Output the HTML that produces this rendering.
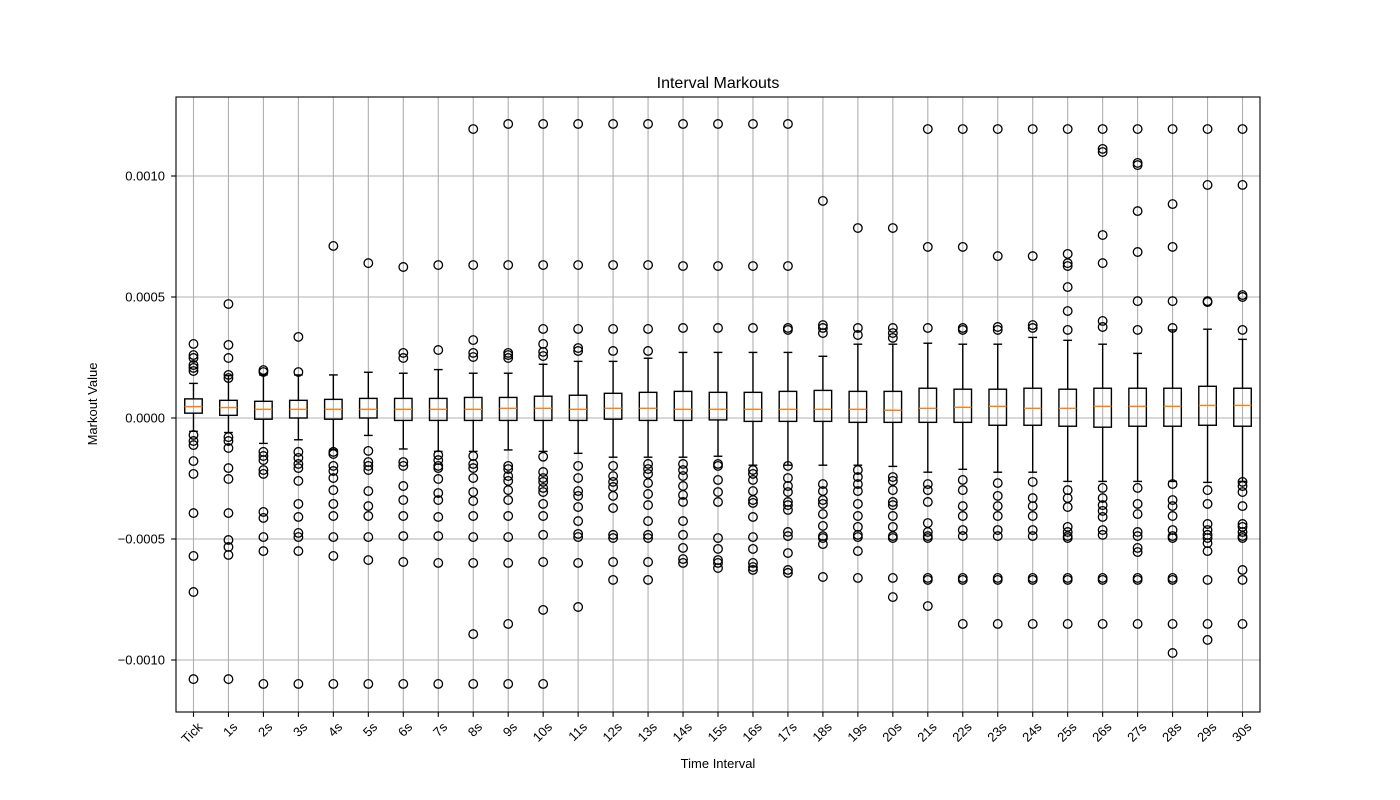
<!DOCTYPE html>
<html><head><meta charset="utf-8"><title>Interval Markouts</title>
<style>html,body{margin:0;padding:0;background:#fff;}svg{display:block;font-family:"Liberation Sans","DejaVu Sans",sans-serif;}</style>
</head><body>
<svg id="chart" width="1400" height="800" viewBox="0 0 1400 800" xmlns="http://www.w3.org/2000/svg">
<rect x="0" y="0" width="1400" height="800" fill="#fff"/>
<text x="718" y="88" text-anchor="middle" font-size="16">Interval Markouts</text>
<text x="718" y="768" text-anchor="middle" font-size="13">Time Interval</text>
<text x="0" y="0" transform="translate(97,404) rotate(-90)" text-anchor="middle" font-size="13">Markout Value</text>
<g id="grid"></g>
<g id="boxes"></g>
<g id="axes"></g>
</svg>
<script>
// values in units of 1e-4
const categories = ["Tick","1s","2s","3s","4s","5s","6s","7s","8s","9s","10s","11s","12s","13s","14s","15s","16s","17s","18s","19s","20s","21s","22s","23s","24s","25s","26s","27s","28s","29s","30s"];
const q1 = [0.20,0.11,-0.05,0,-0.05,0,-0.1,-0.1,-0.1,-0.1,-0.1,-0.1,-0.05,-0.1,-0.1,-0.08,-0.14,-0.14,-0.14,-0.18,-0.18,-0.18,-0.18,-0.3,-0.3,-0.34,-0.38,-0.34,-0.34,-0.3,-0.34];
const medians = [0.47,0.43,0.36,0.36,0.36,0.36,0.36,0.36,0.36,0.4,0.4,0.36,0.4,0.4,0.36,0.36,0.36,0.36,0.36,0.36,0.32,0.4,0.44,0.48,0.4,0.4,0.48,0.48,0.48,0.52,0.52];
const q3 = [0.79,0.73,0.69,0.73,0.77,0.81,0.81,0.81,0.85,0.85,0.9,0.94,1.02,1.06,1.1,1.06,1.06,1.1,1.14,1.1,1.1,1.23,1.19,1.19,1.23,1.19,1.23,1.23,1.23,1.31,1.23];
const whiskerLow = [-0.55,-0.6,-1.05,-0.9,-1.3,-0.72,-1.28,-1.38,-1.38,-1.32,-1.38,-1.46,-1.62,-1.62,-1.62,-1.58,-1.95,-1.95,-1.95,-1.95,-2.0,-2.24,-2.12,-2.24,-2.24,-2.62,-2.62,-2.62,-2.62,-2.66,-2.62];
const whiskerHigh = [1.43,1.75,1.78,1.78,1.78,1.89,1.85,2.0,1.85,1.85,2.22,2.34,2.34,2.47,2.71,2.71,2.71,2.71,2.55,3.05,3.05,3.09,3.05,3.05,3.33,3.21,3.05,2.67,3.64,3.67,3.25];
const outliers = [
 [3.06,2.6,2.48,2.19,2.07,1.94,-0.7,-0.95,-1.12,-1.78,-2.31,-3.93,-5.7,-7.19,-10.79],
 [4.71,3.02,2.48,1.78,1.65,-0.79,-0.95,-1.24,-2.07,-2.52,-3.93,-5.04,-5.33,-5.66,-10.79],
 [1.98,1.9,-1.4,-1.57,-1.74,-2.15,-2.31,-3.88,-4.13,-4.92,-5.5,-10.99],
 [3.35,1.9,-1.4,-1.65,-1.9,-2.07,-2.6,-3.55,-4.09,-4.75,-4.92,-5.5,-10.99],
 [7.11,-1.4,-1.49,-1.98,-2.19,-2.48,-2.98,-3.55,-4.05,-4.92,-5.7,-10.99],
 [6.4,-1.36,-1.82,-1.98,-2.15,-3.02,-3.64,-4.05,-4.92,-5.87,-10.99],
 [6.24,2.69,2.48,-1.82,-1.98,-2.81,-3.39,-4.05,-4.88,-5.95,-10.99],
 [6.32,2.81,-1.53,-1.74,-1.98,-2.07,-2.52,-3.10,-3.39,-4.09,-4.88,-5.99,-10.99],
 [11.94,6.32,3.22,2.69,2.52,-1.57,-1.9,-2.07,-2.48,-3.06,-3.43,-4.05,-4.92,-5.99,-8.93,-10.99],
 [12.15,6.32,2.69,2.6,2.48,-1.98,-2.11,-2.40,-2.60,-2.98,-3.39,-4.05,-4.92,-5.99,-8.51,-10.99],
 [12.15,6.32,3.68,3.06,2.73,2.56,-1.6,-2.23,-2.48,-2.64,-2.89,-3.06,-3.55,-4.05,-4.83,-5.95,-7.93,-10.99],
 [12.15,6.32,3.68,2.89,2.77,-1.98,-2.48,-3.02,-3.22,-3.68,-4.26,-4.79,-4.92,-5.99,-7.81],
 [12.15,6.32,3.68,2.77,-1.98,-2.40,-2.64,-2.85,-3.22,-3.72,-4.83,-4.96,-5.95,-6.69],
 [12.15,6.32,3.68,2.77,-1.9,-2.11,-2.31,-2.69,-3.14,-3.60,-4.26,-4.83,-4.96,-5.95,-6.69],
 [12.15,6.28,3.72,-1.9,-2.15,-2.40,-2.81,-3.18,-3.47,-4.26,-4.83,-5.37,-5.83,-5.99],
 [12.15,6.28,3.72,-1.9,-1.98,-2.56,-3.06,-3.47,-4.96,-5.41,-5.87,-5.99,-6.20],
 [12.15,6.28,3.72,-2.15,-2.31,-2.56,-3.02,-3.39,-3.51,-4.09,-4.92,-5.41,-5.99,-6.16,-6.28],
 [12.15,6.28,3.72,3.64,-1.98,-2.48,-2.81,-3.06,-3.47,-3.60,-3.80,-4.71,-4.88,-5.58,-6.28,-6.40],
 [8.97,3.84,3.72,3.51,-2.73,-3.02,-3.39,-3.55,-3.97,-4.46,-4.88,-4.96,-5.21,-6.57],
 [7.85,3.72,3.43,-2.15,-2.44,-2.73,-3.02,-3.55,-4.05,-4.50,-4.83,-4.92,-5.50,-6.61],
 [7.85,3.72,3.51,3.31,-2.44,-2.60,-2.98,-3.47,-3.60,-4.05,-4.50,-4.88,-4.96,-6.61,-7.40],
 [11.94,7.07,3.72,-2.73,-2.98,-3.47,-4.34,-4.71,-4.88,-4.96,-6.61,-6.69,-7.77],
 [11.94,7.07,3.72,3.64,-2.56,-2.98,-3.64,-4.05,-4.63,-4.88,-6.61,-6.69,-8.51],
 [11.94,6.69,3.76,3.64,-2.69,-3.22,-3.64,-4.05,-4.63,-4.88,-6.61,-6.69,-8.51],
 [11.94,6.69,3.84,3.72,-2.64,-3.31,-3.64,-4.05,-4.63,-4.88,-6.61,-6.69,-8.51],
 [11.94,6.78,6.40,6.28,5.41,4.42,3.64,-2.98,-3.31,-3.68,-4.50,-4.71,-4.88,-4.96,-6.61,-6.69,-8.51],
 [11.94,11.12,10.99,7.56,6.40,4.01,3.76,-2.89,-3.31,-3.60,-3.84,-4.09,-4.63,-4.83,-6.61,-6.69,-8.51],
 [11.94,10.54,10.45,8.55,6.86,4.83,3.64,-2.89,-3.55,-3.97,-4.71,-4.88,-5.37,-5.54,-6.61,-6.69,-8.51],
 [11.94,8.84,7.07,4.83,3.72,-2.73,-3.39,-3.64,-4.05,-4.63,-4.88,-4.96,-6.61,-6.69,-8.51,-9.71],
 [11.94,9.63,4.83,4.79,-2.98,-3.55,-4.38,-4.63,-4.83,-4.96,-5.17,-5.50,-6.69,-8.51,-9.17],
 [11.94,9.63,5.08,5.0,3.64,-2.64,-2.81,-3.06,-3.64,-4.38,-4.50,-4.71,-4.88,-4.96,-6.28,-6.69,-8.51]
];
const yTickValues = [-10, -5, 0, 5, 10];
const yTickLabels = ["\u22120.0010","\u22120.0005","0.0000","0.0005","0.0010"];

const NS = "http://www.w3.org/2000/svg";
const PL = 176, PT = 97, PW = 1084, PH = 615;
const Y0 = 418, YS = 24.2;
function yPos(v){ return Y0 - v * YS; }
function xPos(i){ return PL + (i + 0.5) * PW / categories.length; }
function mk(tag, attrs, parent){
  const e = document.createElementNS(NS, tag);
  for (const k in attrs) e.setAttribute(k, attrs[k]);
  parent.appendChild(e);
  return e;
}
const grid = document.getElementById('grid');
const boxes = document.getElementById('boxes');
const axes = document.getElementById('axes');

categories.forEach((c, i) => {
  const x = xPos(i);
  const gl = mk('line', {x1:x, x2:x, y1:PT, y2:PT+PH, stroke:'#b0b0b0', 'stroke-width':1.1}, grid);
  
  
});
yTickValues.forEach((v) => {
  const y = yPos(v);
  const gl = mk('line', {x1:PL, x2:PL+PW, y1:y, y2:y, stroke:'#b0b0b0', 'stroke-width':1.1}, grid);
  
  
});

const BW = 17.5, CW = 8.75;
categories.forEach((c, i) => {
  const x = xPos(i);
  const g = mk('g', {}, boxes);
  
  
  const s = {stroke:'#000', 'stroke-width':1.4, fill:'none'};
  mk('line', Object.assign({x1:x, x2:x, y1:yPos(q3[i]), y2:yPos(whiskerHigh[i])}, s), g);
  mk('line', Object.assign({x1:x, x2:x, y1:yPos(q1[i]), y2:yPos(whiskerLow[i])}, s), g);
  mk('line', Object.assign({x1:x-CW/2, x2:x+CW/2, y1:yPos(whiskerHigh[i]), y2:yPos(whiskerHigh[i])}, s), g);
  mk('line', Object.assign({x1:x-CW/2, x2:x+CW/2, y1:yPos(whiskerLow[i]), y2:yPos(whiskerLow[i])}, s), g);
  mk('rect', Object.assign({x:x-BW/2, y:yPos(q3[i]), width:BW, height:yPos(q1[i])-yPos(q3[i])}, s), g);
  mk('line', {x1:x-BW/2, x2:x+BW/2, y1:yPos(medians[i]), y2:yPos(medians[i]), stroke:'#ff7f0e', 'stroke-width':1.4}, g);
  outliers[i].forEach(v => {
    const o = mk('circle', {cx:x, cy:yPos(v), r:4.3, fill:'none', stroke:'#000', 'stroke-width':1.3}, g);
    
    
  });
});

const frame = mk('rect', {x:PL, y:PT, width:PW, height:PH, fill:'none', stroke:'#000', 'stroke-width':1.1}, axes);


categories.forEach((c, i) => {
  const x = xPos(i);
  mk('line', {x1:x, x2:x, y1:PT+PH, y2:PT+PH+4.9, stroke:'#000', 'stroke-width':1.1}, axes);
  const t = mk('text', {x:0, y:0, transform:'translate(' + (x+3) + ',' + (PT+PH+9) + ') rotate(-45)', 'text-anchor':'end', 'dominant-baseline':'hanging', 'font-size':13}, axes);
  t.textContent = c;
  
  
});
yTickValues.forEach((v, i) => {
  const y = yPos(v);
  mk('line', {x1:PL-4.9, x2:PL, y1:y, y2:y, stroke:'#000', 'stroke-width':1.1}, axes);
  const t = mk('text', {x:PL-11, y:y+4.5, 'text-anchor':'end', 'font-size':13}, axes);
  t.textContent = yTickLabels[i];
  
  
});
</script>
</body></html>
